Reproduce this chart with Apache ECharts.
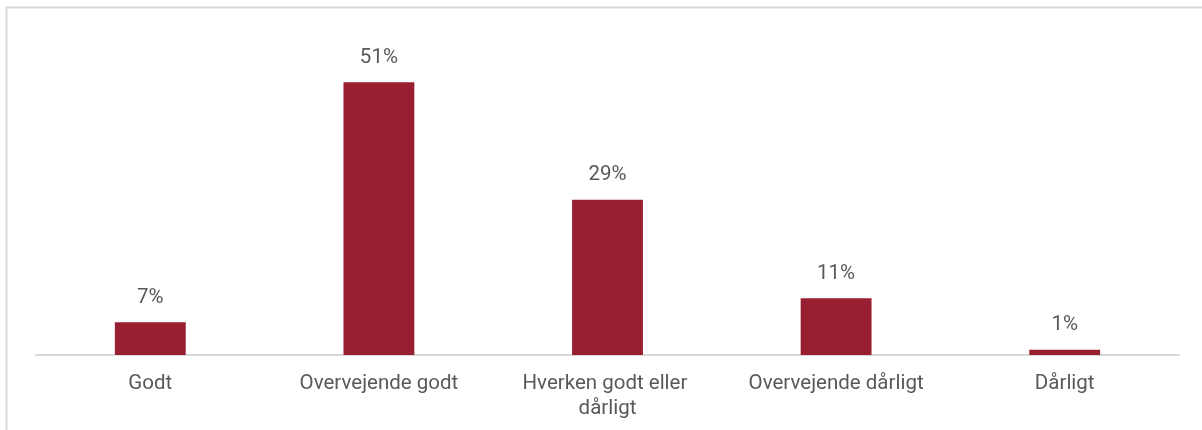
<!DOCTYPE html>
<html><head><meta charset="utf-8">
<script src="https://cdn.jsdelivr.net/npm/echarts@6/dist/echarts.min.js"></script>
<style>html,body{margin:0;padding:0;background:#fff;}#c{width:1202px;height:430px;}</style>
</head><body><div id="c"></div>
<script>
const categories = ["Godt", "Overvejende godt", "Hverken godt eller dårligt", "Overvejende dårligt", "Dårligt"];
// bar heights
const values = [6.1, 51, 29, 10.6, 1];
// value labels as printed in the picture
const valueLabels = ["7%", "51%", "29%", "11%", "1%"];
const chart = echarts.init(document.getElementById('c'));
chart.setOption({
  animation: false,
  graphic: [{type: 'rect', shape: {x: 6.5, y: 7.5, width: 1300, height: 500}, style: {fill: 'none', stroke: '#d9d9d9', lineWidth: 2}, silent: true}],
  grid: {left: 36, right: 23, top: 34, bottom: 75},
  xAxis: {
    type: 'category', data: categories,
    axisLine: {lineStyle: {color: '#d9d9d9', width: 2}},
    axisTick: {show: false},
    axisLabel: {color: '#595959', fontFamily: 'Roboto', fontSize: 20.5, margin: 16, lineHeight: 25, width: 200, overflow: 'break', interval: 0}
  },
  yAxis: {type: 'value', min: 0, max: 60, show: false, splitLine: {show: false}},
  series: [{
    type: 'bar', data: values, barWidth: '31%',
    itemStyle: {color: '#981e32'},
    label: {show: true, position: 'top', distance: 14, formatter: p => valueLabels[p.dataIndex], color: '#595959', fontFamily: 'Roboto', fontSize: 20.5}
  }]
});
</script></body></html>
